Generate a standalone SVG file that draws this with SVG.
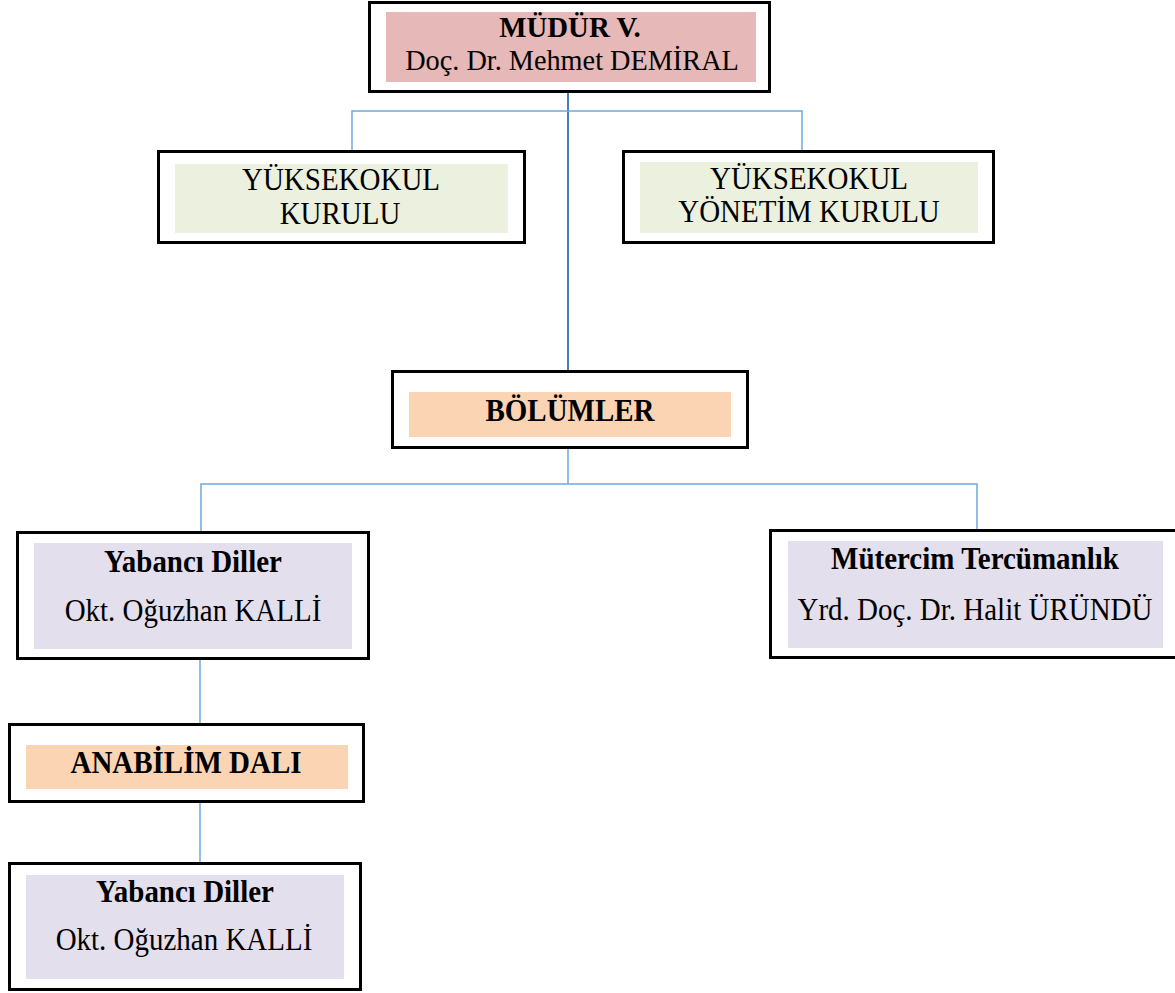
<svg xmlns="http://www.w3.org/2000/svg" width="1175" height="993" viewBox="0 0 1175 993">
<style>
.box{fill:#ffffff;stroke:#000000;stroke-width:3}
.red{fill:#E6B8B7}
.green{fill:#EBF1DE}
.peach{fill:#FBD4B4}
.lav{fill:#E4DFEC}
text{font-family:"Liberation Serif","Times New Roman",serif;font-size:29px;fill:#000000;text-anchor:middle}
.b{font-weight:bold}
.t{font-size:28px}
.c{fill:none;stroke:#6FA8DC;stroke-width:1.5}
.cm{fill:none;stroke:#4A7EBB;stroke-width:2}
</style>
<rect width="1175" height="993" fill="#ffffff"/>
<g id="connectors">
<path class="cm" d="M568 92 V370"/>
<path class="c" d="M352 151 V111 H802 V151"/>
<path class="c" d="M568 448 V484"/>
<path class="c" d="M201 532 V484 H977 V531"/>
<path class="c" d="M200 659 V723"/>
<path class="c" d="M200 802 V863"/>
</g>
<g id="mudur">
<rect class="box" x="369.5" y="2.5" width="400" height="89"/>
<rect class="red" x="386" y="12" width="370" height="70"/>
<text class="b t" transform="translate(570 37) scale(1.03 1.05)">MÜDÜR V.</text>
<text class="t" transform="translate(572 70) scale(1.01 1.05)">Doç. Dr. Mehmet DEMİRAL</text>
</g>
<g id="yuksekokul-kurulu">
<rect class="box" x="158.5" y="151.5" width="366" height="91"/>
<rect class="green" x="175" y="164" width="333" height="69"/>
<text transform="translate(341 190) scale(1 1.12)">YÜKSEKOKUL</text>
<text transform="translate(340 224) scale(1 1.12)">KURULU</text>
</g>
<g id="yuksekokul-yonetim-kurulu">
<rect class="box" x="623.5" y="151.5" width="370" height="91"/>
<rect class="green" x="640" y="162" width="338" height="71"/>
<text transform="translate(809 189) scale(1 1.12)">YÜKSEKOKUL</text>
<text transform="translate(809 222) scale(1 1.12)">YÖNETİM KURULU</text>
</g>
<g id="bolumler">
<rect class="box" x="392.5" y="371.5" width="355" height="76"/>
<rect class="peach" x="409" y="392" width="322" height="45"/>
<text class="b" transform="translate(570 421) scale(1 1.12)">BÖLÜMLER</text>
</g>
<g id="yabanci-diller">
<rect class="box" x="17.5" y="532.5" width="351" height="126"/>
<rect class="lav" x="34" y="543" width="318" height="106"/>
<text class="b" transform="translate(193 572) scale(1 1.12)">Yabancı Diller</text>
<text transform="translate(193 621) scale(1 1.12)">Okt. Oğuzhan KALLİ</text>
</g>
<g id="mutercim">
<rect class="box" x="770.5" y="530.5" width="410" height="127"/>
<rect class="lav" x="788" y="541" width="375" height="107"/>
<text class="b" transform="translate(975 569) scale(1 1.12)">Mütercim Tercümanlık</text>
<text transform="translate(975 620) scale(1 1.12)">Yrd. Doç. Dr. Halit ÜRÜNDÜ</text>
</g>
<g id="anabilim-dali">
<rect class="box" x="9.5" y="724.5" width="354" height="77"/>
<rect class="peach" x="26" y="745" width="322" height="44"/>
<text class="b" transform="translate(186 773) scale(1 1.12)">ANABİLİM DALI</text>
</g>
<g id="yabanci-diller-2">
<rect class="box" x="9.5" y="863.5" width="351" height="126"/>
<rect class="lav" x="26" y="875" width="318" height="104"/>
<text class="b" transform="translate(185 902) scale(1 1.12)">Yabancı Diller</text>
<text transform="translate(184 950) scale(1 1.12)">Okt. Oğuzhan KALLİ</text>
</g>
</svg>
